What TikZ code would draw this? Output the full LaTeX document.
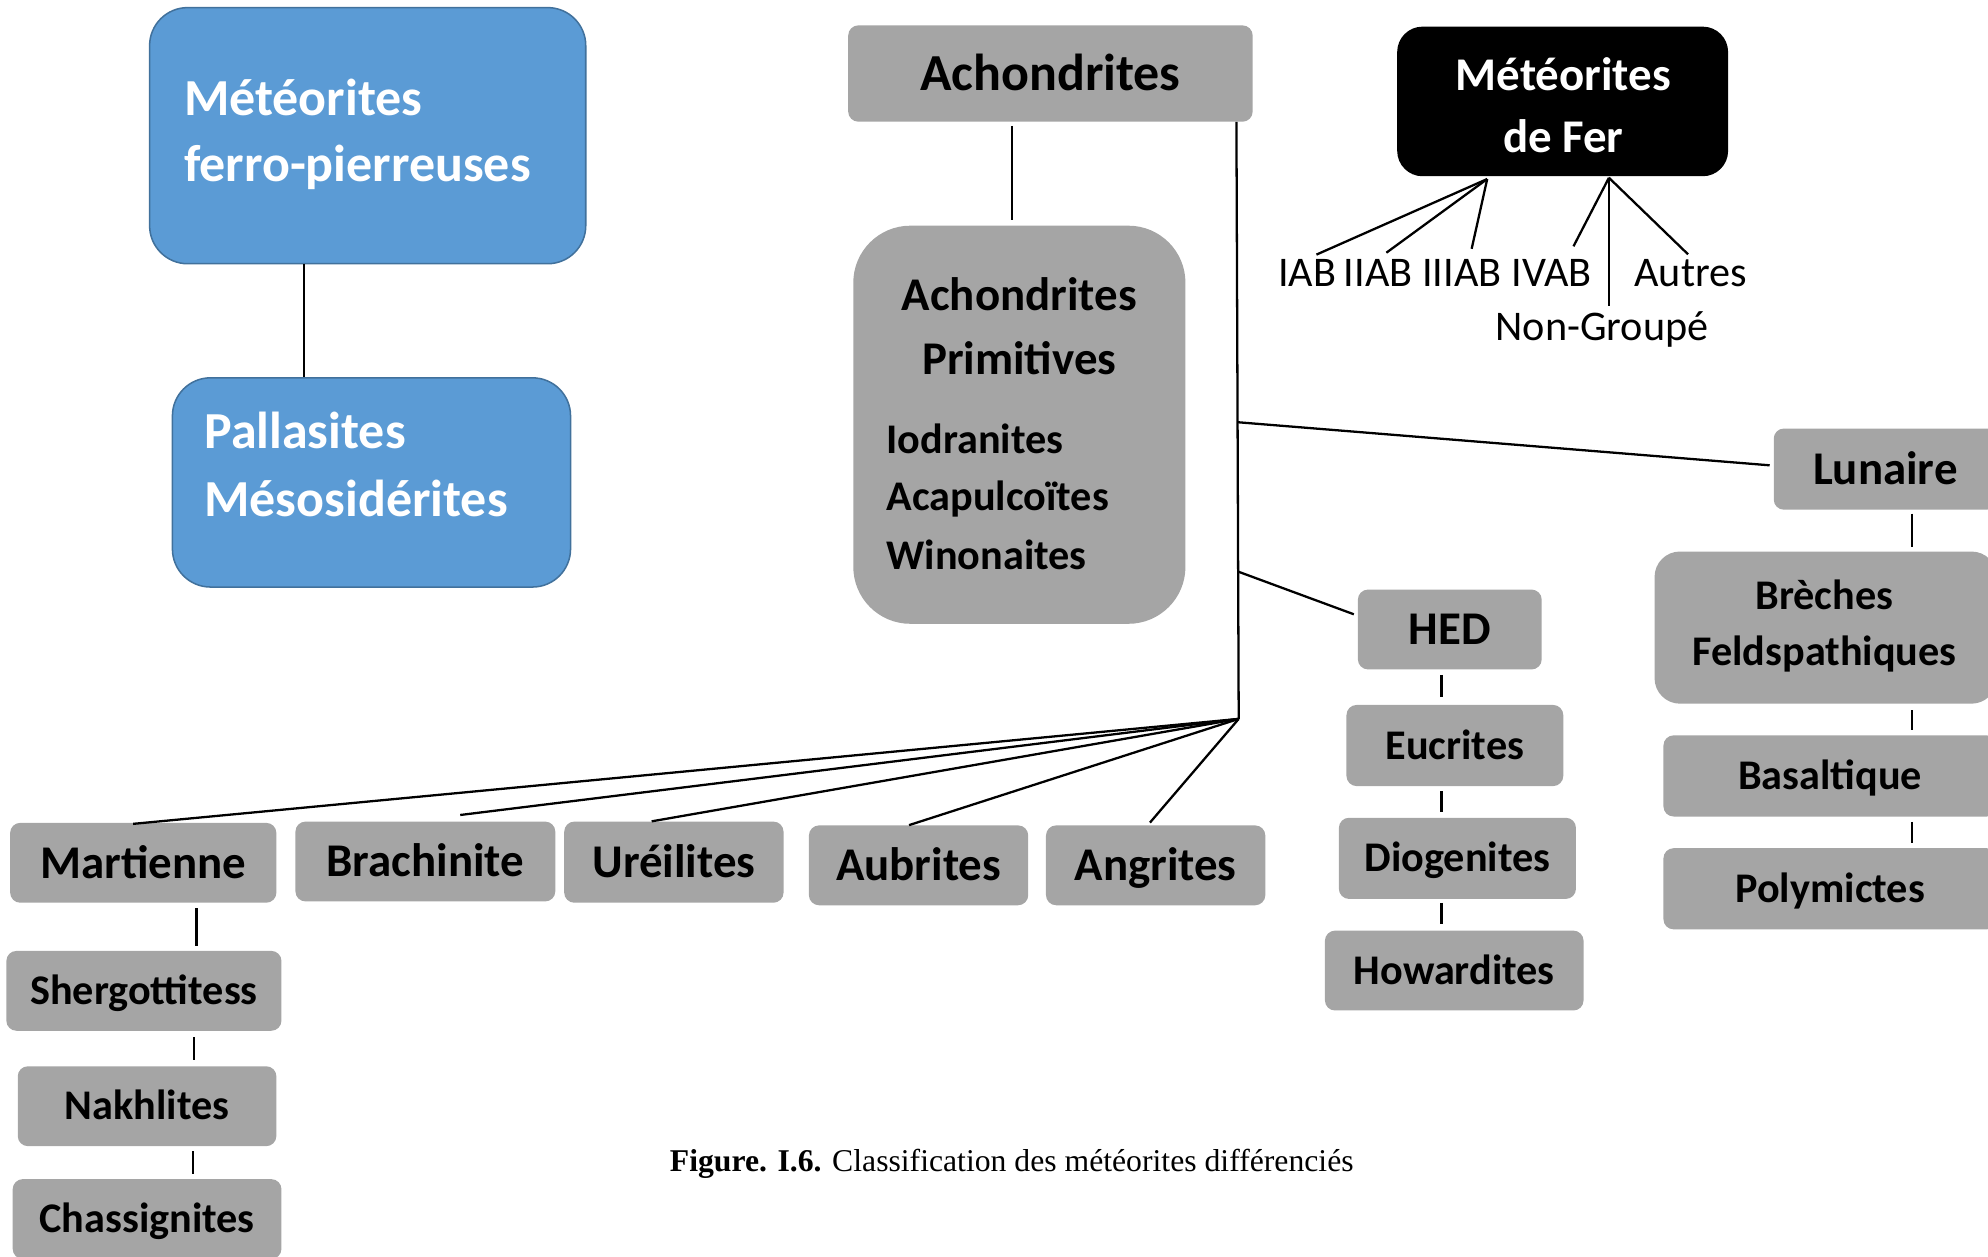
\documentclass[tikz,border=0pt]{standalone}
\usepackage{fontspec}
\setmainfont{Carlito}
\newfontfamily\timesfont{Liberation Serif}
\usetikzlibrary{calc}
\definecolor{boxgray}{HTML}{A5A5A5}
\definecolor{boxblue}{HTML}{5B9BD5}
\definecolor{blueedge}{HTML}{41719C}
\newcommand\szbig{\fontsize{41}{49}\selectfont}
\newcommand\szmid{\fontsize{37}{45}\selectfont}
\newcommand\szsmall{\fontsize{33.3}{40}\selectfont}
\begin{document}
\begin{tikzpicture}[x=1pt,y=-1pt,
  dims/.style 2 args={minimum width=#1pt, minimum height=#2pt},
  gbox/.style={fill=boxgray, draw=none, rounded corners=8pt, inner sep=0pt,
    font=\bfseries\szmid, text height=24pt, text depth=0pt},
  gsmall/.style={gbox, font=\bfseries\szsmall, text height=21.5pt},
  bluebox/.style={fill=boxblue, draw=blueedge, line width=1.2pt, rounded corners=30pt, inner sep=0pt},
  whitetxt/.style={text=white, font=\bfseries\szbig, anchor=base west, inner sep=0pt},
  blacktxt/.style={text=black, inner sep=0pt},
  fertxt/.style={text=black, font=\szsmall, inner sep=0pt, text height=21.5pt, text depth=0pt},
  conn/.style={draw=black, line width=1.8pt}]
\useasboundingbox (0,0) rectangle (1568,991);

% blue boxes
\node[bluebox, dims={344}{202}] (fp) at (290,107) {};
\node[whitetxt] (fpa) at (145,91) {Météorites};
\node[whitetxt] (fpb) at (145,143) {ferro-pierreuses};
\node[bluebox, dims={314}{165}] (pm) at (293,380.5) {};
\node[whitetxt] (pma) at (161,354) {Pallasites};
\node[whitetxt] (pmb) at (161,407) {Mésosidérites};
\draw[conn] ($(fp.south)+(-50,0)$) -- ($(pm.north)+(-53,0)$);

% achondrites
\node[gbox, font=\bfseries\szbig, text height=26.4pt, dims={319}{76}] (achon) at (828.5,58) {Achondrites};
\node[gbox, rounded corners=45pt, dims={262}{314}] (prim) at (804,335) {};
\node[blacktxt, font=\bfseries\szmid, anchor=base] (prima) at (804,245) {Achondrites};
\node[blacktxt, font=\bfseries\szmid, anchor=base] (primb) at (804,295) {Primitives};
\node[blacktxt, font=\bfseries\szsmall, anchor=base west] (pl1) at (699,358) {Iodranites};
\node[blacktxt, font=\bfseries\szsmall, anchor=base west] (pl2) at (699,403) {Acapulcoïtes};
\node[blacktxt, font=\bfseries\szsmall, anchor=base west] (pl3) at (699,449) {Winonaites};
\draw[conn] ($(achon.south)+(-30.5,3)$) -- ($(prim.north)+(-6,-4)$);

% trunk
\coordinate (trunktop) at ($(achon.south east)+(-13,0)$);
\coordinate (hub) at (977,567);
\coordinate (b1) at (976,333);
\coordinate (b2) at (977,451);
\draw[conn] (trunktop) -- (hub);

% iron meteorites
\node[fill=black, rounded corners=20pt, inner sep=0pt, dims={261}{118}] (fer) at (1232.5,80) {};
\node[text=white, font=\bfseries\szmid, anchor=base, inner sep=0pt] (fera) at (1233,71) {Météorites};
\node[text=white, font=\bfseries\szmid, anchor=base, inner sep=0pt] (ferb) at (1233,120) {de Fer};
\coordinate (ferL) at ($(fer.south)+(-59.5,2)$);
\coordinate (ferR) at ($(fer.south)+(36.5,1)$);
\node[fertxt] (iab) at (1031,215) {IAB};
\node[fertxt] (iiab) at (1087,215) {IIAB};
\node[fertxt] (iiiab) at (1153,215) {IIIAB};
\node[fertxt] (ivab) at (1224,215) {IVAB};
\node[fertxt] (autres) at (1333.5,215) {Autres};
\node[fertxt] (nong) at (1263.5,258) {Non-Groupé};
\draw[conn, shorten >=8pt] (ferL) -- (iab.north);
\draw[conn, shorten >=8pt] (ferL) -- (iiab.north);
\draw[conn, shorten >=8pt] (ferL) -- ($(iiiab.north)+(6,0)$);
\draw[conn, shorten >=11pt] (ferR) -- ($(ivab.north)+(12,0)$);
\draw[conn, shorten >=6pt] (ferR) -- ($(nong.north)+(5.5,0)$);
\draw[conn, shorten >=5pt] (ferR) -- ($(autres.north)+(1.5,0)$);

% lunar
\node[gbox, dims={176}{64}] (lun) at (1487,370) {Lunaire};
\node[gsmall, rounded corners=20pt, dims={270}{120}] (breches) at (1440,495) {};
\node[blacktxt, font=\bfseries\szsmall, anchor=base] (bra) at (1439,481) {Brèches};
\node[blacktxt, font=\bfseries\szsmall, anchor=base] (brb) at (1439,525) {Feldspathiques};
\node[gsmall, dims={263}{64}] (basal) at (1443.5,612) {Basaltique};
\node[gsmall, dims={263}{64}] (poly) at (1443.5,701) {Polymictes};
\draw[conn] (b1) -- ($(lun.west)+(-3,-3)$);
\draw[conn, shorten <=3pt, shorten >=3pt] ($(lun.south)+(21,0)$) -- ($(breches.north)+(68,0)$);
\draw[conn, shorten <=5pt, shorten >=4pt] ($(breches.south)+(68,0)$) -- ($(basal.north)+(64.5,0)$);
\draw[conn, shorten <=4pt, shorten >=4pt] ($(basal.south)+(64.5,0)$) -- ($(poly.north)+(64.5,0)$);

% HED
\node[gbox, dims={145}{63}] (hed) at (1143.5,496.5) {HED};
\node[gsmall, dims={171}{64}] (euc) at (1147.5,588) {Eucrites};
\node[gsmall, dims={187}{64}] (dio) at (1149.5,677) {Diogenites};
\node[gsmall, dims={204}{63}] (how) at (1147,765.5) {Howardites};
\draw[conn] (b2) -- ($(hed.west)+(-3,-12)$);
\draw[conn, shorten <=4pt, shorten >=6pt] ($(hed.south)+(-6.5,0)$) -- ($(euc.north)+(-10.5,0)$);
\draw[conn, shorten <=4pt, shorten >=4pt] ($(euc.south)+(-10.5,0)$) -- ($(dio.north)+(-12.5,0)$);
\draw[conn, shorten <=3pt, shorten >=5pt] ($(dio.south)+(-12.5,0)$) -- ($(how.north)+(-10,0)$);

% bottom row
\node[gbox, dims={210}{63}] (mart) at (113,680.5) {Martienne};
\node[gbox, dims={205}{63}] (brach) at (335.5,679.5) {Brachinite};
\node[gbox, dims={173}{64}] (ureil) at (531.5,680) {Uréilites};
\node[gbox, dims={173}{63}] (aub) at (724.5,682.5) {Aubrites};
\node[gbox, dims={173}{63}] (ang) at (911.5,682.5) {Angrites};
\draw[conn] (hub) -- ($(mart.north)+(-8,1)$);
\draw[conn] (hub) -- ($(brach.north)+(27.5,-5)$);
\draw[conn] (hub) -- ($(ureil.north)+(-17.5,0)$);
\draw[conn] (hub) -- ($(aub.north)+(-7.5,0)$);
\draw[conn] (hub) -- ($(ang.north)+(-4.5,-2)$);

% martian chain
\node[gsmall, dims={217}{63}] (sherg) at (113.5,781.5) {Shergottitess};
\node[gsmall, dims={204}{63}] (nakh) at (116,872.5) {Nakhlites};
\node[gsmall, dims={212}{63}] (chass) at (116,961.5) {Chassignites};
\draw[conn, shorten <=4pt, shorten >=4pt] ($(mart.south)+(42,0)$) -- ($(sherg.north)+(41.5,0)$);
\draw[conn, shorten <=5pt, shorten >=5pt] ($(sherg.south)+(39.5,0)$) -- ($(nakh.north)+(37,0)$);
\draw[conn, shorten <=4pt, shorten >=4pt] ($(nakh.south)+(36,0)$) -- ($(chass.north)+(36,0)$);

% caption
\node[inner sep=0pt, font=\timesfont\fontsize{25}{30}\selectfont] (caption) at (798,918) {\textbf{Figure. I.6.} Classification des météorites différenciés};
\end{tikzpicture}
\end{document}
